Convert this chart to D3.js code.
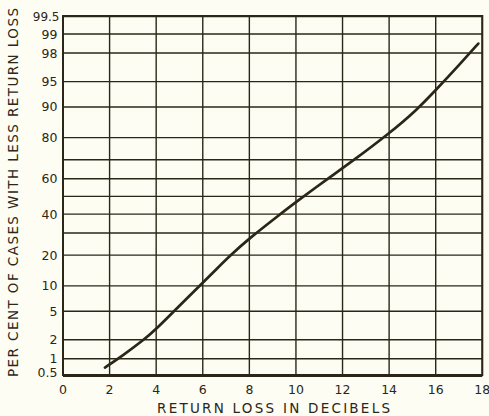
<!DOCTYPE html>
<html>
<head>
<meta charset="utf-8">
<script src="https://cdn.jsdelivr.net/npm/d3@7"></script>
<style>
  html, body { margin: 0; padding: 0; background: #fdfdf3; }
  svg { display: block; }
  text { font-family: "DejaVu Sans", "Liberation Sans", sans-serif; fill: #2b2718; }
</style>
</head>
<body>
<svg id="chart" width="489" height="416"></svg>
<script>
// ---- data ----
const returnLossDb = [1.8, 2.6, 3.45, 4.0, 4.75, 5.9, 6.6, 7.2, 8.0, 9.3, 10.0, 11.4, 12.4, 14.0, 15.2, 16.0, 17.05, 17.83];
const percentLess  = [0.71, 1.16, 1.97, 2.87, 4.95, 10.2, 15.0, 20.05, 27.4, 39.7, 46.8, 60.3, 69.1, 81.6, 89.3, 93.6, 97.13, 98.57];
const xTicks = [0, 2, 4, 6, 8, 10, 12, 14, 16, 18];
const yGrid = [0.5, 1, 2, 5, 10, 20, 30, 40, 50, 60, 70, 80, 90, 95, 98, 99, 99.5];
const yTickLabels = [0.5, 1, 2, 5, 10, 20, 40, 60, 80, 90, 95, 98, 99, 99.5];
const xTitle = "RETURN LOSS IN DECIBELS";
const yTitle = "PER CENT OF CASES WITH LESS RETURN LOSS";

// ---- inverse normal CDF (probability-paper transform) ----
function probit(p) {
  const a = [-3.969683028665376e+01, 2.209460984245205e+02, -2.759285104469687e+02, 1.383577518672690e+02, -3.066479806614716e+01, 2.506628277459239e+00];
  const b = [-5.447609879822406e+01, 1.615858368580409e+02, -1.556989798598866e+02, 6.680131188771972e+01, -1.328068155288572e+01];
  const c = [-7.784894002430293e-03, -3.223964580411365e-01, -2.400758277161838e+00, -2.549732539343734e+00, 4.374664141464968e+00, 2.938163982698783e+00];
  const d = [7.784695709041462e-03, 3.224671290700398e-01, 2.445134137142996e+00, 3.754408661907416e+00];
  const pl = 0.02425, ph = 1 - pl;
  let q, r;
  if (p < pl) {
    q = Math.sqrt(-2 * Math.log(p));
    return (((((c[0]*q+c[1])*q+c[2])*q+c[3])*q+c[4])*q+c[5]) / ((((d[0]*q+d[1])*q+d[2])*q+d[3])*q+1);
  } else if (p <= ph) {
    q = p - 0.5; r = q*q;
    return (((((a[0]*r+a[1])*r+a[2])*r+a[3])*r+a[4])*r+a[5])*q / (((((b[0]*r+b[1])*r+b[2])*r+b[3])*r+b[4])*r+1);
  } else {
    q = Math.sqrt(-2 * Math.log(1 - p));
    return -(((((c[0]*q+c[1])*q+c[2])*q+c[3])*q+c[4])*q+c[5]) / ((((d[0]*q+d[1])*q+d[2])*q+d[3])*q+1);
  }
}

const ink = "#2b2718";
const mLeft = 63, mRight = 482.3, mTop = 16, mBottom = 375;

const x = d3.scaleLinear().domain([0, 18]).range([mLeft, mRight]);
const zScale = d3.scaleLinear().domain([probit(0.005), probit(0.995)]).range([mBottom + 1.2, mTop + 0.6]);
const y = pct => zScale(probit(pct / 100));

const svg = d3.select("#chart");

// vertical grid
svg.append("g").selectAll("line").data(xTicks).join("line")
  .attr("x1", d => x(d)).attr("x2", d => x(d))
  .attr("y1", mTop).attr("y2", mBottom)
  .attr("stroke", ink).attr("stroke-width", 1.4);

// horizontal grid
svg.append("g").selectAll("line").data(yGrid).join("line")
  .attr("x1", mLeft).attr("x2", mRight)
  .attr("y1", d => y(d)).attr("y2", d => y(d))
  .attr("stroke", ink).attr("stroke-width", 1.4);

// frame
svg.append("rect")
  .attr("x", mLeft).attr("y", mTop)
  .attr("width", mRight - mLeft).attr("height", mBottom - mTop)
  .attr("fill", "none").attr("stroke", ink).attr("stroke-width", 2);

// x tick labels
svg.append("g").selectAll("text").data(xTicks).join("text")
  .attr("x", d => x(d)).attr("y", 394)
  .attr("text-anchor", "middle")
  .attr("font-size", 12.5)
  .text(d => d);

// y tick labels
svg.append("g").selectAll("text").data(yTickLabels).join("text")
  .attr("x", d => d === 99.5 ? 59.5 : 57.5)
  .attr("y", d => y(d))
  .attr("dy", d => d === 0.5 ? "0.05em" : "0.36em")
  .attr("text-anchor", "end")
  .attr("font-size", d => d === 99.5 ? 12 : 12.5)
  .text(d => d);

// axis titles
svg.append("text")
  .attr("x", 157).attr("y", 412.5)
  .attr("font-size", 13.5)
  .attr("textLength", 233).attr("lengthAdjust", "spacing")
  .text(xTitle);

svg.append("text")
  .attr("transform", "translate(17.5,377) rotate(-90)")
  .attr("font-size", 13.5)
  .attr("textLength", 369).attr("lengthAdjust", "spacing")
  .text(yTitle);

// curve
const pts = returnLossDb.map((v, i) => [v, percentLess[i]]);
svg.append("path")
  .datum(pts)
  .attr("fill", "none")
  .attr("stroke", ink)
  .attr("stroke-width", 2.7)
  .attr("stroke-linecap", "round")
  .attr("stroke-linejoin", "round")
  .attr("d", d3.line().x(d => x(d[0])).y(d => y(d[1])).curve(d3.curveBasis));
</script>
</body>
</html>
